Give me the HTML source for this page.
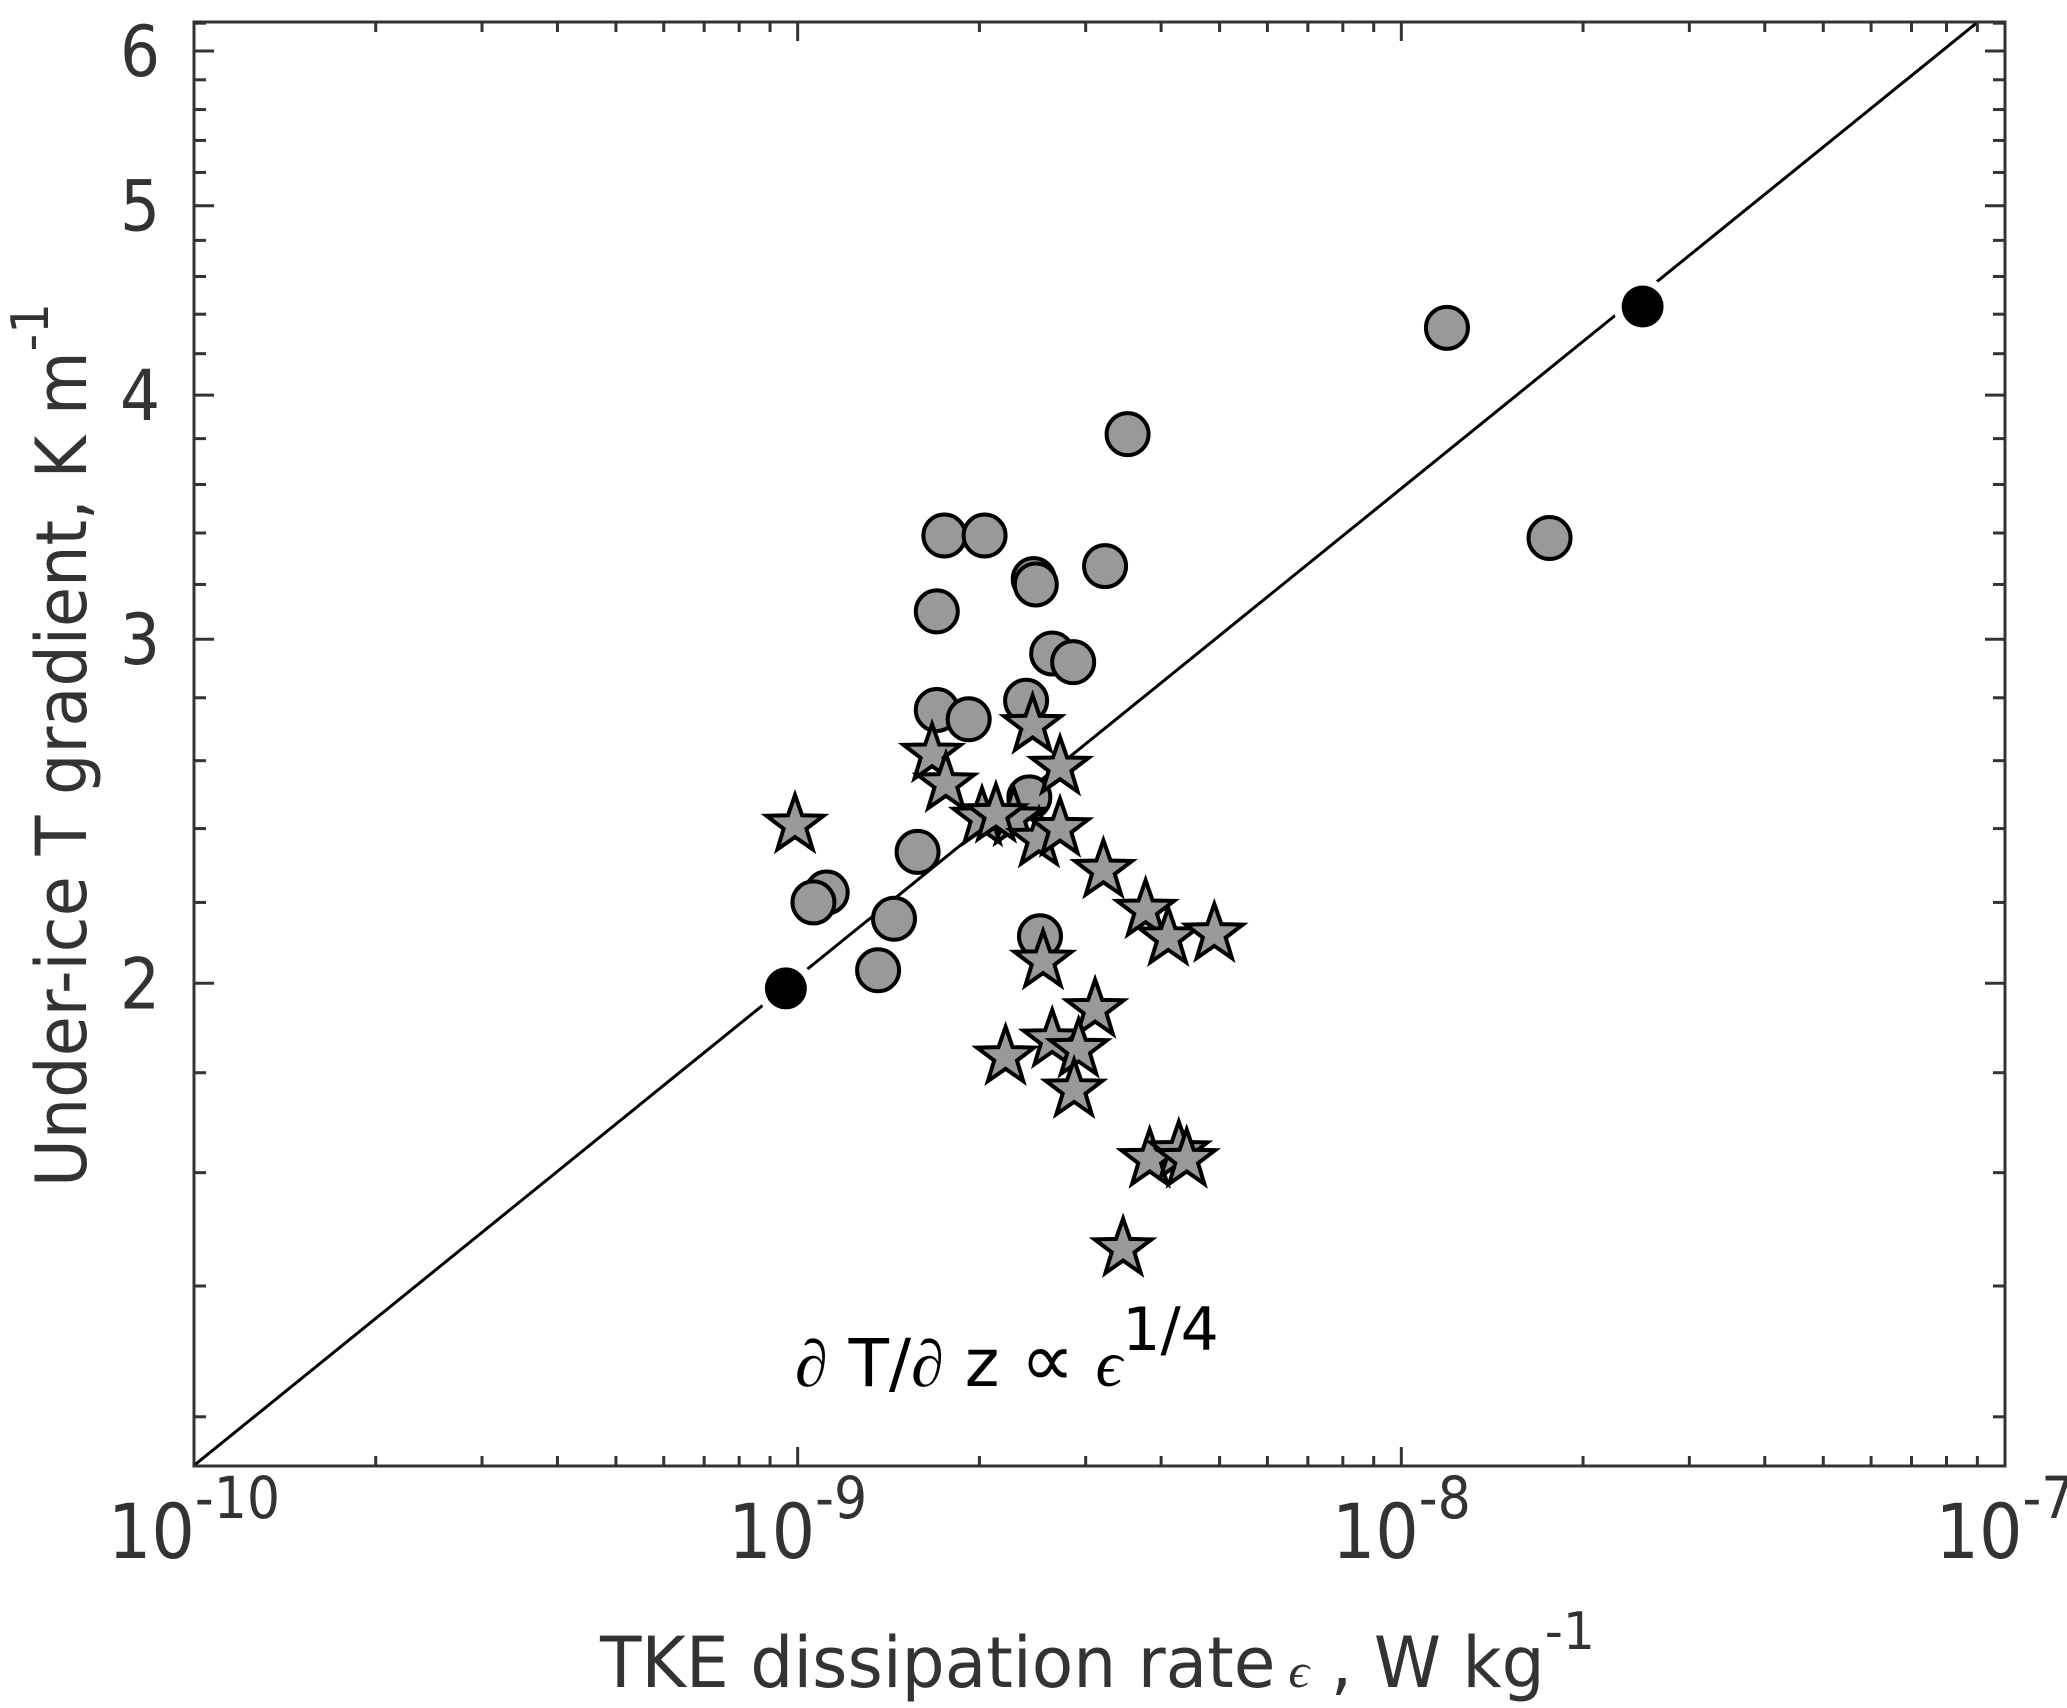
<!DOCTYPE html>
<html><head><meta charset="utf-8"><style>
html,body{margin:0;padding:0;background:#fff;}
svg{display:block;font-family:"DejaVu Sans Condensed","DejaVu Sans","Liberation Sans",sans-serif;}
</style></head><body>
<svg id="chart" width="2067" height="1708" viewBox="0 0 2067 1708" xmlns="http://www.w3.org/2000/svg">
<rect x="0" y="0" width="2067" height="1708" fill="#fff"/>
<g id="marks"></g>
<g id="axes"></g>
<text x="795" y="1386" font-size="66" fill="#000" font-family="DejaVu Sans, sans-serif"><tspan font-family="Liberation Serif, serif" font-style="italic">∂</tspan> T/<tspan font-family="Liberation Serif, serif" font-style="italic">∂</tspan> z <tspan font-family="Liberation Serif, serif" font-size="76">∝</tspan> <tspan font-family="Liberation Serif, serif" font-style="italic">ϵ</tspan><tspan dy="-36" font-size="60">1/4</tspan></text>
<text x="600" y="1687" font-size="70" fill="#333" textLength="995" lengthAdjust="spacingAndGlyphs">TKE dissipation rate<tspan font-family="Liberation Serif, serif" font-style="italic" font-size="48"> ϵ</tspan> , W kg<tspan dy="-38" font-size="52">-1</tspan></text>
<text transform="translate(86,1187) rotate(-90)" x="0" y="0" font-size="70" fill="#333" textLength="884" lengthAdjust="spacingAndGlyphs">Under-ice T gradient, K m<tspan dy="-38" font-size="52">-1</tspan></text>
</svg>
<script>
// data
const circleEps = [1.19e-8,3.52e-9,1.76e-8,1.75e-9,2.04e-9,2.46e-9,2.48e-9,3.23e-9,1.70e-9,2.64e-9,2.86e-9,2.39e-9,1.70e-9,1.92e-9,2.42e-9,1.58e-9,1.117e-9,1.062e-9,1.444e-9,2.52e-9,1.359e-9];
const circleGrad = [4.33,3.82,3.38,3.39,3.39,3.22,3.20,3.27,3.10,2.95,2.92,2.79,2.76,2.73,2.49,2.335,2.226,2.20,2.158,2.114,2.031];
const starEps = [0.99e-9,1.67e-9,2.45e-9,1.76e-9,2.72e-9,2.02e-9,2.28e-9,2.13e-9,2.51e-9,2.72e-9,3.21e-9,3.77e-9,4.11e-9,4.90e-9,2.55e-9,3.11e-9,2.64e-9,2.21e-9,2.92e-9,2.87e-9,3.83e-9,4.28e-9,4.41e-9,3.46e-9];
const starGrad = [2.41,2.62,2.71,2.53,2.58,2.43,2.43,2.44,2.37,2.40,2.285,2.18,2.11,2.12,2.053,1.939,1.871,1.834,1.85,1.764,1.625,1.64,1.625,1.463];
const meanEps = [0.956e-9,2.51e-8];
const meanGrad = [1.988,4.44];
const lineEps = [1e-10,1e-7];
const lineCoef = 2.015; // gradient at eps=1e-9
const xTickExp = [-10,-9,-8,-7];
const yTickLabels = [2,3,4,5,6];

const NS="http://www.w3.org/2000/svg";
const L=194,R=2005,T=22,B=1466;
const xMin=-10,xMax=-7, yMax=0.7930, yMin=0.0540;
function X(e){return L+(Math.log10(e)-xMin)/(xMax-xMin)*(R-L);}
function Y(v){return T+(yMax-Math.log10(v))/(yMax-yMin)*(B-T);}
function mk(tag,attrs,parent){const el=document.createElementNS(NS,tag);for(const k in attrs)el.setAttribute(k,attrs[k]);parent.appendChild(el);return el;}
const marks=document.getElementById('marks');
const axes=document.getElementById('axes');

const defs=mk('defs',{},marks);
const cp=mk('clipPath',{id:'clip'},defs);
mk('rect',{x:L,y:T,width:R-L,height:B-T},cp);

const lg=mk('g',{'clip-path':'url(#clip)'},marks);
const ln=mk('line',{x1:X(lineEps[0]),y1:Y(lineCoef*Math.pow(lineEps[0]/1e-9,0.25)),x2:X(lineEps[1]),y2:Y(lineCoef*Math.pow(lineEps[1]/1e-9,0.25)),stroke:'#000','stroke-width':3},lg);



function starPts(cx,cy,r){let p=[];for(let i=0;i<10;i++){const a=-Math.PI/2+i*Math.PI/5;const rr=i%2?r*0.4:r;p.push((cx+rr*Math.cos(a)).toFixed(1)+','+(cy+rr*Math.sin(a)).toFixed(1));}return p.join(' ');}

for(let i=0;i<circleEps.length;i++){
  const c=mk('circle',{cx:X(circleEps[i]),cy:Y(circleGrad[i]),r:21,fill:'#999',stroke:'#000','stroke-width':4},marks);
  
  
}
for(let i=0;i<starEps.length;i++){
  const s=mk('polygon',{points:starPts(X(starEps[i]),Y(starGrad[i]),30),fill:'#999',stroke:'#000','stroke-width':4,'stroke-linejoin':'miter'},marks);
  
  
}
for(let i=0;i<meanEps.length;i++){
  const c=mk('circle',{cx:X(meanEps[i]),cy:Y(meanGrad[i]),r:21,fill:'#000',stroke:'#fff','stroke-width':16,'paint-order':'stroke'},marks);
  
  
}

const fr=mk('rect',{x:L,y:T,width:R-L,height:B-T,fill:'none',stroke:'#333','stroke-width':3},axes);



for(let d=xMin;d<xMax;d++){
  for(let m=1;m<10;m++){
    const x=X(m*Math.pow(10,d));const len=m===1?19:10;
    mk('line',{x1:x,y1:B,x2:x,y2:B-len,stroke:'#333','stroke-width':3},axes);
    mk('line',{x1:x,y1:T,x2:x,y2:T+len,stroke:'#333','stroke-width':3},axes);
  }
}
for(const e of xTickExp){
  const x=X(Math.pow(10,e));
  const t=mk('text',{x:x,y:1558,'font-size':76,fill:'#333','text-anchor':'middle'},axes);
  t.textContent='10';
  const sup=mk('tspan',{dy:-40,'font-size':58},t);
  sup.textContent=String(e);
  
  
}
for(let v=1.2;v<=6.21;v+=0.2){
  const vv=Math.round(v*10)/10;
  const y=Y(vv);const major=Math.abs(vv-Math.round(vv))<1e-6;const len=major?20:12;
  mk('line',{x1:L,y1:y,x2:L+len,y2:y,stroke:'#333','stroke-width':3},axes);
  mk('line',{x1:R,y1:y,x2:R-len,y2:y,stroke:'#333','stroke-width':3},axes);
}
for(const v of yTickLabels){
  const t=mk('text',{x:160,y:Y(v)+25,'font-size':70,fill:'#333','text-anchor':'end'},axes);
  t.textContent=String(v);
  
  
}
</script>
</body></html>
